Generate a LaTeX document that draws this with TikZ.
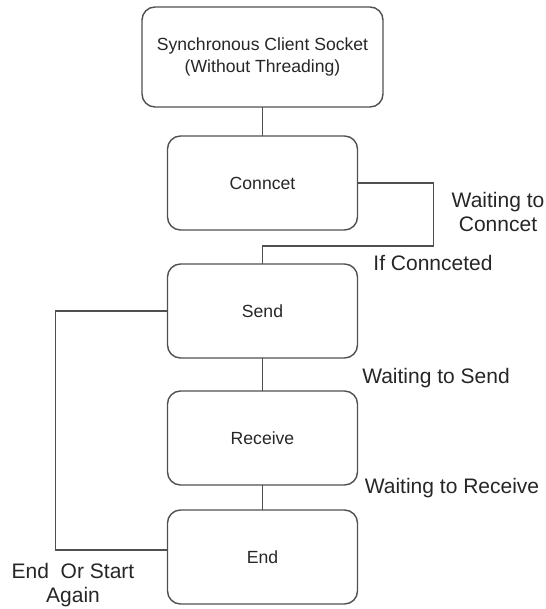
\documentclass[tikz,border=0pt]{standalone}
\usepackage{fontspec}
\setmainfont{Liberation Sans}
\usepackage{tikz}
\usetikzlibrary{positioning}
\usepackage{xcolor}
\definecolor{edge}{HTML}{505050}
\definecolor{ink} {HTML}{262626}

\begin{document}
\begin{tikzpicture}[
      x=1pt, y=1pt,
      box/.style={
        draw=edge, line width=1.4pt, rounded corners=13pt,
        minimum height=94pt, minimum width=190pt,
        align=center, text=ink, inner sep=0pt, outer sep=0pt,
        font=\fontsize{17.6}{22}\selectfont
      },
      link/.style={draw=edge, line width=1.4pt},
      note/.style={align=center, text=ink, inner sep=0pt,
        font=\fontsize{21}{24}\selectfont}
    ]
      \useasboundingbox (0,0) rectangle (545,-609);

      \node[box, minimum width=241pt, minimum height=100pt] (sock) at (262.5,-57) {Synchronous Client Socket\\(Without Threading)};
      \node[box, below=29pt of sock] (conn) {Conncet};
      \node[box, below=34pt of conn] (send) {Send};
      \node[box, below=33pt of send] (recv) {Receive};
      \node[box, below=25pt of recv] (fin) {End};

      % loop back while the connection is pending
      \coordinate (waitA) at ([xshift=76pt]conn.east);
      \coordinate (waitB) at ([yshift=18pt]send.north);
      \draw[link] (sock) -- (conn);
      \draw[link] (conn.east) -- (waitA) |- (waitB) -- (send.north);
      \draw[link] (send) -- (recv);
      \draw[link] (recv) -- (fin);

      % back from the end to sending again
      \coordinate (again) at ([xshift=-112pt]send.west);
      \draw[link] (send.west) -- (again) |- ([yshift=7pt]fin.west);

      \node[note] (lconn) at (498,-212) {Waiting to\\Conncet};
      \node[note] (lok)   at (433,-263) {If Connceted};
      \node[note] (lsend) at (436,-378) {Waiting to Send};
      \node[note] (lrecv) at (452,-488) {Waiting to Receive};
      \node[note] (lend)  at (73,-585)  {End\ \ Or Start\\Again};
    \end{tikzpicture}
\end{document}
